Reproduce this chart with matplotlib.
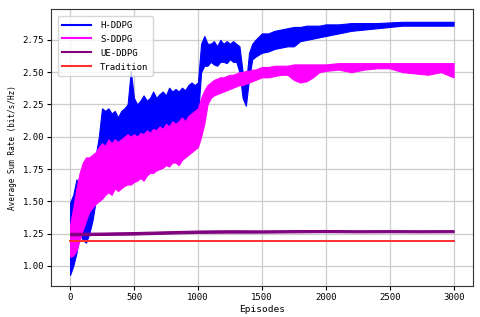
import matplotlib
matplotlib.use("Agg")
import matplotlib.pyplot as plt
from matplotlib.lines import Line2D

# ---------------- data ----------------
episodes = [0, 25, 50, 75, 100, 125, 150, 175, 200, 225, 250, 275, 300, 325, 350,
            375, 400, 425, 450, 475, 500, 525, 550, 575, 600, 625, 650, 675, 700,
            725, 750, 775, 800, 825, 850, 875, 900, 925, 950, 975, 1000, 1025,
            1050, 1075, 1100, 1125, 1150, 1175, 1200, 1225, 1250, 1275, 1300,
            1325, 1350, 1375, 1400, 1425, 1450, 1500, 1550, 1600, 1650, 1700,
            1750, 1800, 1850, 1900, 1950, 2000, 2100, 2200, 2300, 2400, 2500,
            2600, 2700, 2800, 2900, 3000]

h_ddpg_low = [0.93, 1.00, 1.10, 1.25, 1.20, 1.18, 1.25, 1.35, 1.50, 1.65, 1.75, 1.80,
              1.85, 1.85, 1.85, 1.90, 1.92, 1.88, 1.92, 1.95, 1.95, 1.95, 1.97, 1.95,
              1.98, 2.00, 2.00, 2.00, 2.02, 2.02, 2.05, 2.03, 2.05, 2.05, 2.08, 2.08,
              2.05, 2.08, 2.10, 2.10, 2.15, 2.50, 2.55, 2.55, 2.58, 2.56, 2.55, 2.58,
              2.58, 2.57, 2.60, 2.58, 2.58, 2.50, 2.30, 2.24, 2.45, 2.60, 2.62, 2.65,
              2.66, 2.68, 2.69, 2.70, 2.70, 2.74, 2.75, 2.76, 2.77, 2.78, 2.80, 2.82,
              2.83, 2.84, 2.85, 2.86, 2.86, 2.86, 2.86, 2.86]
h_ddpg_high = [1.49, 1.55, 1.67, 1.62, 1.55, 1.50, 1.55, 1.65, 1.85, 2.00, 2.22, 2.20,
               2.22, 2.18, 2.20, 2.15, 2.20, 2.22, 2.25, 2.51, 2.30, 2.25, 2.28, 2.32,
               2.28, 2.30, 2.35, 2.30, 2.33, 2.35, 2.32, 2.38, 2.35, 2.37, 2.35, 2.38,
               2.36, 2.40, 2.42, 2.40, 2.42, 2.72, 2.78, 2.72, 2.72, 2.74, 2.70, 2.75,
               2.72, 2.74, 2.72, 2.74, 2.72, 2.70, 2.50, 2.40, 2.65, 2.72, 2.75, 2.80,
               2.80, 2.82, 2.83, 2.84, 2.85, 2.85, 2.86, 2.86, 2.86, 2.87, 2.87, 2.88,
               2.88, 2.88, 2.885, 2.89, 2.89, 2.89, 2.89, 2.89]

s_ddpg_low = [1.07, 1.08, 1.12, 1.20, 1.28, 1.35, 1.42, 1.45, 1.48, 1.50, 1.52, 1.55,
              1.57, 1.55, 1.60, 1.58, 1.60, 1.62, 1.63, 1.63, 1.65, 1.66, 1.68, 1.66,
              1.70, 1.72, 1.72, 1.74, 1.75, 1.76, 1.78, 1.77, 1.80, 1.80, 1.78, 1.82,
              1.84, 1.86, 1.88, 1.90, 1.92, 2.00, 2.10, 2.25, 2.30, 2.32, 2.33, 2.34,
              2.35, 2.36, 2.37, 2.38, 2.39, 2.40, 2.40, 2.41, 2.42, 2.43, 2.44, 2.46,
              2.46, 2.47, 2.48, 2.48, 2.44, 2.42, 2.43, 2.46, 2.50, 2.51, 2.52, 2.50,
              2.52, 2.53, 2.53, 2.50, 2.49, 2.48, 2.50, 2.46]
s_ddpg_high = [1.32, 1.45, 1.60, 1.72, 1.80, 1.84, 1.84, 1.86, 1.88, 1.92, 1.95, 1.93,
               1.98, 1.95, 1.98, 1.96, 1.98, 2.00, 2.02, 2.00, 2.02, 2.00, 2.03, 2.02,
               2.05, 2.03, 2.06, 2.05, 2.08, 2.06, 2.10, 2.08, 2.12, 2.10, 2.12, 2.15,
               2.12, 2.16, 2.18, 2.20, 2.22, 2.30, 2.36, 2.40, 2.42, 2.44, 2.45, 2.46,
               2.46, 2.47, 2.48, 2.48, 2.49, 2.50, 2.50, 2.51, 2.51, 2.52, 2.52, 2.54,
               2.54, 2.55, 2.55, 2.55, 2.56, 2.56, 2.56, 2.56, 2.56, 2.56, 2.57, 2.57,
               2.57, 2.57, 2.57, 2.57, 2.57, 2.57, 2.57, 2.57]

ue_episodes = [0, 250, 500, 750, 1000, 1250, 1500, 1750, 2000, 2250, 2500, 2750, 3000]
ue_ddpg_low = [1.237, 1.240, 1.243, 1.250, 1.256, 1.258, 1.258, 1.260, 1.262, 1.260,
               1.261, 1.260, 1.261]
ue_ddpg_high = [1.256, 1.258, 1.262, 1.268, 1.274, 1.276, 1.275, 1.277, 1.278, 1.276,
                1.277, 1.276, 1.277]

trad_episodes = [0, 3000]
tradition = [1.195, 1.195]

labels = ["H-DDPG", "S-DDPG", "UE-DDPG", "Tradition"]
colors = ["#0000ff", "#ff00ff", "#800080", "#ff3030"]
xticks = [0, 500, 1000, 1500, 2000, 2500, 3000]
yticks = [1.00, 1.25, 1.50, 1.75, 2.00, 2.25, 2.50, 2.75]

# ---------------- plot ----------------
plt.rcParams["font.family"] = ["DejaVu Sans Mono", "DejaVu Sans"]
fig = plt.figure(figsize=(4.8, 3.17), dpi=100)
ax = fig.add_axes([0.106, 0.098, 0.879, 0.874])

ax.fill_between(episodes, h_ddpg_low, h_ddpg_high, color=colors[0], lw=0.8, zorder=2)
ax.fill_between(episodes, s_ddpg_low, s_ddpg_high, color=colors[1], lw=0.8, zorder=3)
ax.fill_between(ue_episodes, ue_ddpg_low, ue_ddpg_high, color=colors[2], lw=0.8, zorder=4)
ax.plot(trad_episodes, tradition, color=colors[3], lw=1.4, zorder=5)

ax.set_xlim(-150, 3150)
ax.set_ylim(0.845, 2.99)
ax.set_xticks(xticks)
ax.set_yticks(yticks)
ax.set_yticklabels([f"{v:.2f}" for v in yticks])
ax.tick_params(labelsize=6.5, length=3, width=0.8, pad=2)
ax.grid(True, color="#cccccc", lw=0.9)
ax.set_axisbelow(True)
for s in ax.spines.values():
    s.set_linewidth(0.8)
    s.set_color("#333333")

ax.set_xlabel("Episodes", fontsize=6.8, labelpad=2)
ax.set_ylabel("Average Sum Rate (bit/s/Hz)", fontsize=5.5, labelpad=4)

handles = [Line2D([], [], color=c, lw=1.5) for c in colors]
ax.legend(handles, labels, loc="upper left", fontsize=6.5, handlelength=3.2,
          borderpad=0.5, labelspacing=0.55, handletextpad=1.0,
          bbox_to_anchor=(0.005, 0.99))

fig.savefig("out.png", dpi=100)
